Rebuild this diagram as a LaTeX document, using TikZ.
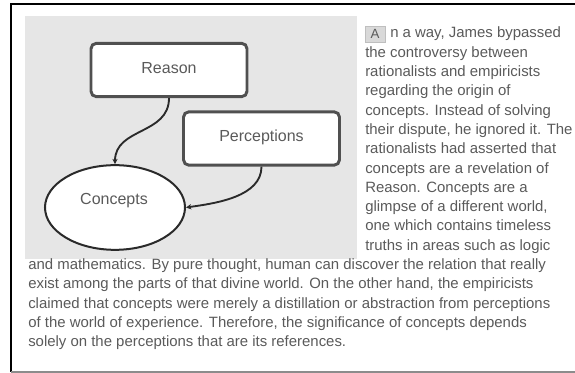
\documentclass[tikz,border=0pt]{standalone}
\usepackage{fontspec}
\setmainfont{Liberation Sans}
\usetikzlibrary{arrows.meta,shapes.geometric}
\definecolor{panel}{HTML}{E6E6E6}
\definecolor{ink}{HTML}{5A5A5A}
\definecolor{boxedge}{HTML}{505050}
\definecolor{wire}{HTML}{2A2A2A}
\begin{document}
\begin{tikzpicture}[x=0.75pt,y=-0.75pt,
  bodytext/.style={anchor=base west, inner sep=0pt, text=ink,
    font=\fontsize{11.2}{13}\selectfont},
  labeltext/.style={text=ink, font=\fontsize{12}{14}\selectfont},
  boxnode/.style={draw=boxedge, line width=2.2pt, rounded corners=4pt,
    fill=white, minimum width=117pt, minimum height=40pt, inner sep=0pt},
  ovalnode/.style={ellipse, draw=wire, line width=1.5pt, fill=white,
    minimum width=105pt, minimum height=63.5pt, inner sep=0pt},
  link/.style={draw=wire, line width=1.4pt,
    -{Stealth[length=4pt,width=4pt]}},
  capbox/.style={fill=black!15, draw=black!25, line width=0.4pt,
    minimum width=15pt, minimum height=12pt, inner sep=0pt, text=ink,
    font=\fontsize{10}{12}\selectfont}]
  \useasboundingbox (0,0) rectangle (575,373);

  % page frame
  \draw[black, line width=1pt] (577,4) -- (11,4) -- (11,372);
  \draw[black!45, line width=0.8pt] (11,372) -- (577,372);

  % figure panel
  \fill[panel] (25,16) rectangle (357,259);

  % concept nodes
  \node[boxnode] (reason) at (169,70) {};
  \node[labeltext] (reasonlbl) at (169,68) {Reason};
  \node[boxnode] (percep) at (261.5,138.5) {};
  \node[labeltext] (perceplbl) at (261.5,137) {Perceptions};
  \node[ovalnode] (concepts) at (115,207.5) {};
  \node[labeltext] (conceptslbl) at (114,201) {Concepts};

  % connectors
  \draw[link] (reason.south) to[out=-90, in=90, looseness=1.1] (concepts.north);
  \draw[link] (percep.south) to[out=-90, in=8, looseness=0.9] (concepts.east);

  % wrapped text beside the figure
  \node[capbox] (dropcap) at (375,34) {A};
  \node[bodytext] (l1) at (390,38) {n a way, James bypassed};
  \foreach \t [count=\i from 2] in {
      {the controversy between},
      {rationalists and empiricists},
      {regarding the origin of},
      {concepts. Instead of solving},
      {their dispute, he ignored it. The},
      {rationalists had asserted that},
      {concepts are a revelation of},
      {Reason. Concepts are a},
      {glimpse of a different world,},
      {one which contains timeless},
      {truths in areas such as logic}}
    \node[bodytext] (l\i) at (365, {38+19.3*(\i-1)}) {\t};

  % full-width text below the figure
  \foreach \t [count=\i from 13] in {
      {and mathematics. By pure thought, human can discover the relation that really},
      {exist among the parts of that divine world. On the other hand, the empiricists},
      {claimed that concepts were merely a distillation or abstraction from perceptions},
      {of the world of experience. Therefore, the significance of concepts depends},
      {solely on the perceptions that are its references.}}
    \node[bodytext] (l\i) at (28, {38+19.3*(\i-1)}) {\t};
\end{tikzpicture}
\end{document}
